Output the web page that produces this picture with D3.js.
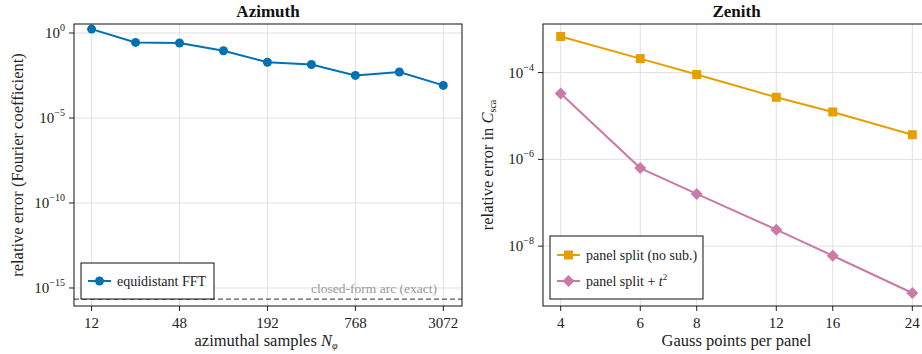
<!DOCTYPE html>
<html>
<head>
<meta charset="utf-8">
<script src="https://cdn.jsdelivr.net/npm/d3@7"></script>
<style>
  body { margin: 0; background: #fff; }
  svg { display: block; font-family: "Liberation Serif", "DejaVu Serif", serif; }
</style>
</head>
<body>
<svg id="chart" width="922" height="354"></svg>
<script>
// --- data ---
const azSamples = [12, 24, 48, 96, 192, 384, 768, 1536, 3072];
const azError = [1.7, 0.28, 0.26, 0.091, 0.019, 0.014, 0.0032, 0.0051, 0.00083];
const azExact = 2.2e-16;
const azTicks = [12, 48, 192, 768, 3072];
const azYTicks = [0, -5, -10, -15];

const gaussPoints = [4, 6, 8, 12, 16, 24];
const splitNoSub = [6.8e-4, 2.1e-4, 9e-5, 2.7e-5, 1.24e-5, 3.7e-6];
const splitT2 = [3.3e-5, 6.3e-7, 1.6e-7, 2.4e-8, 6e-9, 8.3e-10];
const zenYTicks = [-4, -6, -8];

const BLUE = '#0072b2', ORANGE = '#e69f00', PINK = '#cc79a7';
const TICK_FS = 15, LABEL_FS = 16.5, LEGEND_FS = 14;

const svg = d3.select('#chart');

function frame(g, x, y, w, h) {
  g.append('rect')
    .attr('x', x).attr('y', y).attr('width', w).attr('height', h)
    .attr('fill', 'none').attr('stroke', '#111').attr('stroke-width', 1);
}

function pow10Label(sel, e) {
  sel.text('10');
  sel.append('tspan').attr('dy', -7).attr('font-size', 10).text(e === 0 ? '0' : '\u2212' + Math.abs(e));
}

function yAxis(g, y, exps, x0, w) {
  exps.forEach(e => {
    const yy = y(Math.pow(10, e));
    g.append('line').attr('x1', x0).attr('x2', x0 + w).attr('y1', yy).attr('y2', yy)
      .attr('stroke', '#e0e0e0').attr('stroke-width', 1);
    g.append('line').attr('x1', x0 - 5).attr('x2', x0).attr('y1', yy).attr('y2', yy)
      .attr('stroke', '#222');
    g.append('text').attr('x', x0 - 9).attr('y', yy + 5).attr('text-anchor', 'end')
      .attr('font-size', TICK_FS).attr('fill', '#222')
      .call(pow10Label, e);
  });
}

function xAxis(g, x, ticks, y0, h) {
  ticks.forEach(t => {
    const xx = x(t);
    g.append('line').attr('x1', xx).attr('x2', xx).attr('y1', y0 - h).attr('y2', y0)
      .attr('stroke', '#e0e0e0').attr('stroke-width', 1);
    g.append('line').attr('x1', xx).attr('x2', xx).attr('y1', y0).attr('y2', y0 + 5)
      .attr('stroke', '#222');
    g.append('text').attr('x', xx).attr('y', y0 + 22).attr('text-anchor', 'middle')
      .attr('font-size', TICK_FS).attr('fill', '#222').text(t);
  });
}

// ---------------- Azimuth panel ----------------
{
  const L = 74, T = 24, R = 462, B = 306;
  const x = d3.scaleLog().base(2)
    .domain([12 * Math.pow(2, -0.4), 3072 * Math.pow(2, 0.425)]).range([L, R]);
  const y = d3.scaleLog()
    .domain([Math.pow(10, -16.06), Math.pow(10, 0.53)]).range([B, T]);
  const g = svg.append('g');

  xAxis(g, x, azTicks, B, B - T);
  yAxis(g, y, azYTicks, L, R - L);

  // exact reference line
  g.append('line').attr('x1', L).attr('x2', R).attr('y1', y(azExact)).attr('y2', y(azExact))
    .attr('stroke', '#555').attr('stroke-width', 1.2).attr('stroke-dasharray', '5,3');
  g.append('text').attr('x', 437).attr('y', y(azExact) - 6).attr('text-anchor', 'end')
    .attr('font-size', 13.5).attr('fill', '#999').text('closed-form arc (exact)');

  const line = d3.line().x(d => x(d[0])).y(d => y(d[1]));
  const pts = azSamples.map((s, i) => [s, azError[i]]);
  g.append('path').attr('d', line(pts)).attr('fill', 'none')
    .attr('stroke', BLUE).attr('stroke-width', 2);
  g.selectAll('circle.pt').data(pts).enter().append('circle')
    .attr('cx', d => x(d[0])).attr('cy', d => y(d[1])).attr('r', 4.5).attr('fill', BLUE);

  frame(g, L, T, R - L, B - T);

  // legend
  const lg = g.append('g');
  lg.append('rect').attr('x', 81).attr('y', 263).attr('width', 133).attr('height', 36)
    .attr('fill', '#fff').attr('stroke', '#111').attr('stroke-width', 1);
  lg.append('line').attr('x1', 88).attr('x2', 111).attr('y1', 281).attr('y2', 281)
    .attr('stroke', BLUE).attr('stroke-width', 2);
  lg.append('circle').attr('cx', 99.5).attr('cy', 281).attr('r', 4.5).attr('fill', BLUE);
  lg.append('text').attr('x', 117).attr('y', 285.5).attr('font-size', LEGEND_FS).attr('fill', '#222')
    .text('equidistant FFT');

  g.append('text').attr('x', (L + R) / 2).attr('y', 17).attr('text-anchor', 'middle')
    .attr('font-size', 17).attr('font-weight', 'bold').attr('fill', '#111').text('Azimuth');

  const xl = g.append('text').attr('x', (L + R) / 2 - 2).attr('y', 346).attr('text-anchor', 'middle')
    .attr('font-size', LABEL_FS).attr('fill', '#222').text('azimuthal samples ');
  xl.append('tspan').attr('font-style', 'italic').text('N');
  xl.append('tspan').attr('font-style', 'italic').attr('font-size', 10).attr('dy', 3).text('\u03c6');

  g.append('text').attr('transform', `translate(23,${(T + B) / 2}) rotate(-90)`)
    .attr('text-anchor', 'middle').attr('font-size', LABEL_FS).attr('fill', '#222')
    .text('relative error (Fourier coefficient)');
}

// ---------------- Zenith panel ----------------
{
  const L = 543, T = 24, R = 930, B = 306;
  const x = d3.scaleLog().base(2)
    .domain([4 * Math.pow(2, -0.13), 24 * Math.pow(2, 0.13)]).range([L, R]);
  const y = d3.scaleLog()
    .domain([Math.pow(10, -9.38), Math.pow(10, -2.88)]).range([B, T]);
  const g = svg.append('g');

  xAxis(g, x, gaussPoints, B, B - T);
  yAxis(g, y, zenYTicks, L, R - L);

  const line = d3.line().x(d => x(d[0])).y(d => y(d[1]));
  const sq = gaussPoints.map((p, i) => [p, splitNoSub[i]]);
  const dm = gaussPoints.map((p, i) => [p, splitT2[i]]);

  g.append('path').attr('d', line(sq)).attr('fill', 'none')
    .attr('stroke', ORANGE).attr('stroke-width', 2);
  g.selectAll('rect.sq').data(sq).enter().append('rect')
    .attr('x', d => x(d[0]) - 4.5).attr('y', d => y(d[1]) - 4.5)
    .attr('width', 9).attr('height', 9).attr('fill', ORANGE);

  g.append('path').attr('d', line(dm)).attr('fill', 'none')
    .attr('stroke', PINK).attr('stroke-width', 2);
  const diamond = d3.symbol().type(d3.symbolSquare).size(72);
  g.selectAll('path.dm').data(dm).enter().append('path')
    .attr('d', diamond)
    .attr('transform', d => `translate(${x(d[0])},${y(d[1])}) rotate(45)`)
    .attr('fill', PINK);

  frame(g, L, T, R - L, B - T);

  // legend
  const lg = g.append('g');
  lg.append('rect').attr('x', 550).attr('y', 236).attr('width', 153).attr('height', 63)
    .attr('fill', '#fff').attr('stroke', '#111').attr('stroke-width', 1);
  lg.append('line').attr('x1', 557).attr('x2', 580).attr('y1', 255).attr('y2', 255)
    .attr('stroke', ORANGE).attr('stroke-width', 2);
  lg.append('rect').attr('x', 564).attr('y', 250.5).attr('width', 9).attr('height', 9).attr('fill', ORANGE);
  lg.append('text').attr('x', 586).attr('y', 259.5).attr('font-size', LEGEND_FS).attr('fill', '#222')
    .text('panel split (no sub.)');
  lg.append('line').attr('x1', 557).attr('x2', 580).attr('y1', 281).attr('y2', 281)
    .attr('stroke', PINK).attr('stroke-width', 2);
  lg.append('path').attr('d', diamond).attr('transform', 'translate(568.5,281) rotate(45)')
    .attr('fill', PINK);
  const t2 = lg.append('text').attr('x', 586).attr('y', 285.5).attr('font-size', LEGEND_FS).attr('fill', '#222')
    .text('panel split + ');
  t2.append('tspan').attr('font-style', 'italic').text('t');
  t2.append('tspan').attr('font-size', 9).attr('dy', -6).text('2');

  g.append('text').attr('x', 736.5).attr('y', 17).attr('text-anchor', 'middle')
    .attr('font-size', 17).attr('font-weight', 'bold').attr('fill', '#111').text('Zenith');

  g.append('text').attr('x', 736.5).attr('y', 346).attr('text-anchor', 'middle')
    .attr('font-size', LABEL_FS).attr('fill', '#222').text('Gauss points per panel');

  const yl = g.append('text').attr('transform', `translate(493,${(T + B) / 2}) rotate(-90)`)
    .attr('text-anchor', 'middle').attr('font-size', LABEL_FS).attr('fill', '#222')
    .text('relative error in ');
  yl.append('tspan').attr('font-style', 'italic').text('C');
  yl.append('tspan').attr('font-size', 10).attr('dy', 3).text('sca');
}
</script>
</body>
</html>
